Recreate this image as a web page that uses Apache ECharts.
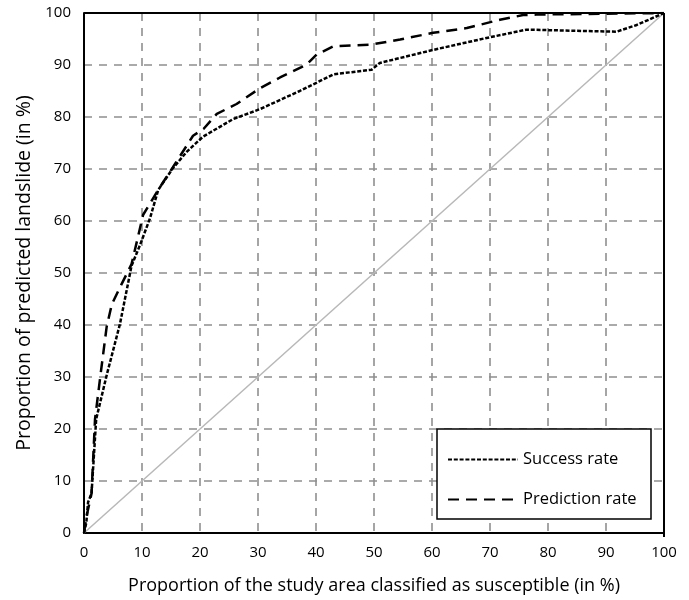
<!DOCTYPE html>
<html>
<head>
<meta charset="utf-8">
<script src="https://cdn.jsdelivr.net/npm/echarts@6/dist/echarts.min.js"></script>
<style>
html,body{margin:0;padding:0;background:#fff;}
#chart{width:689px;height:600px;}
</style>
</head>
<body>
<div id="chart"></div>
<script>
const xTicks = [0,10,20,30,40,50,60,70,80,90,100];
const yTicks = [0,10,20,30,40,50,60,70,80,90,100];

const successX = [0, 0.4, 0.7, 1.3, 2.1, 3.9, 6.2, 8.2, 9.7, 11.4, 12.8, 15.3, 17.7, 20.5, 25.7, 30.3, 37.2, 43, 49.6, 51, 60.2, 69.4, 76.3, 91.8, 95.3, 100];
const successY = [0, 2, 5.9, 7.6, 21.9, 30.3, 40.2, 51.4, 55.5, 60.6, 66, 70.1, 73.3, 76.2, 79.6, 81.5, 85, 88.2, 89.1, 90.4, 92.9, 95.2, 96.8, 96.4, 97.7, 100];

const predictionX = [0, 0.4, 1.3, 1.9, 2.8, 3.9, 4.8, 6.5, 8.2, 10.2, 12.8, 15.3, 18.8, 20.6, 22.9, 26.3, 30.3, 33.8, 38.4, 40.1, 43, 49.3, 54.5, 60.2, 66, 71.7, 75.7, 78, 100];
const predictionY = [0, 3, 7.6, 21.9, 30, 39.6, 44, 47.9, 51.7, 61.2, 66, 70.3, 76.4, 77.7, 80.6, 82.5, 85.5, 87.6, 90.1, 92, 93.6, 93.9, 94.9, 96.2, 97.1, 98.7, 99.6, 99.7, 100];

const refX = [0, 100];
const refY = [0, 100];

const zip = (a, b) => a.map((v, i) => [v, b[i]]);

const font = "'Open Sans', 'DejaVu Sans', sans-serif";
const chart = echarts.init(document.getElementById('chart'), null, {renderer: 'canvas'});
chart.setOption({
  animation: false,
  backgroundColor: '#fff',
  grid: {left: 84, right: 25, top: 13, bottom: 63, containLabel: false},
  xAxis: {
    type: 'value', min: 0, max: 100, interval: 10,
    name: 'Proportion of the study area classified as susceptible (in %)',
    nameLocation: 'middle', nameGap: 44,
    nameTextStyle: {color: '#000', fontSize: 18, fontFamily: font},
    axisLine: {show: true, onZero: false, lineStyle: {color: '#000', width: 2}},
    axisTick: {show: false},
    axisLabel: {color: '#000', fontSize: 15, fontFamily: font, margin: 12,
      formatter: v => xTicks.includes(v) ? String(v) : ''},
    splitLine: {show: true, lineStyle: {color: '#8f8f8f', width: 1.6, type: [8, 7]}}
  },
  yAxis: {
    type: 'value', min: 0, max: 100, interval: 10,
    name: 'Proportion of predicted landslide (in %)',
    nameLocation: 'middle', nameGap: 41, nameRotate: 90,
    nameTextStyle: {color: '#000', fontSize: 19.5, fontFamily: font},
    axisLine: {show: true, onZero: false, lineStyle: {color: '#000', width: 2}},
    axisTick: {show: false},
    axisLabel: {color: '#000', fontSize: 15, fontFamily: font, margin: 13,
      formatter: v => yTicks.includes(v) ? String(v) : ''},
    splitLine: {show: true, lineStyle: {color: '#8f8f8f', width: 1.6, type: [8, 7]}}
  },
  legend: {
    show: true,
    left: 447, top: 451,
    orient: 'vertical',
    padding: 0,
    itemGap: 23,
    itemWidth: 70, itemHeight: 14,
    z: 6,
    itemStyle: {opacity: 0},
    textStyle: {color: '#000', fontSize: 16.5, fontFamily: font},
    data: ['Success rate', 'Prediction rate']
  },
  series: [
    {
      name: 'Reference', type: 'line', data: zip(refX, refY), symbol: 'none',
      lineStyle: {color: '#b8b8b8', width: 1.5}, z: 1, silent: true
    },
    {
      name: 'Success rate', type: 'line', data: zip(successX, successY), symbol: 'none',
      lineStyle: {color: '#000', width: 2.5, type: [4, 1.8]},
      itemStyle: {color: '#000'}, z: 2
    },
    {
      name: 'Prediction rate', type: 'line', data: zip(predictionX, predictionY), symbol: 'none',
      lineStyle: {color: '#000', width: 2.5, type: [11, 7]},
      itemStyle: {color: '#000'}, z: 2
    }
  ],
  graphic: [
    {type: 'rect', shape: {x: 437, y: 429, width: 214, height: 90}, style: {fill: '#fff', stroke: '#000', lineWidth: 1.5}, z: 5},
    {type: 'line', shape: {x1: 84, y1: 13, x2: 664, y2: 13}, style: {stroke: '#000', lineWidth: 2}, z: 10},
    {type: 'line', shape: {x1: 664, y1: 13, x2: 664, y2: 537}, style: {stroke: '#000', lineWidth: 2}, z: 10}
  ]
});
</script>
</body>
</html>
